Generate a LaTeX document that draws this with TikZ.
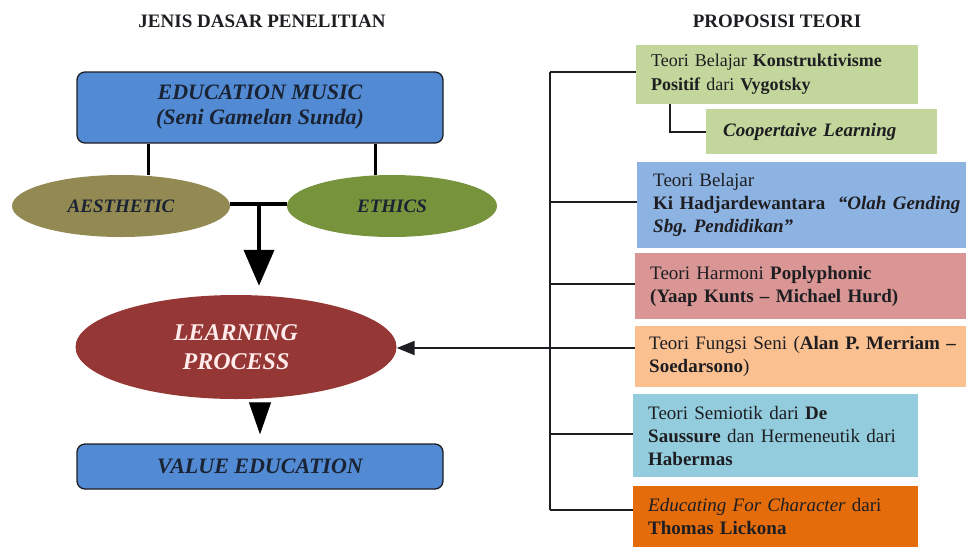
\documentclass[tikz,border=0pt]{standalone}
\usepackage{fontspec}
\setmainfont{LiberationSerif}[
  Extension=.ttf,
  UprightFont=*-Regular,
  BoldFont=*-Bold,
  ItalicFont=*-Italic,
  BoldItalicFont=*-BoldItalic]
\usetikzlibrary{shapes.geometric,arrows.meta}

\definecolor{boxblue}{HTML}{528AD3}
\definecolor{aesfill}{HTML}{938953}
\definecolor{ethfill}{HTML}{77933C}
\definecolor{lpfill}{HTML}{953735}
\definecolor{tgreen}{HTML}{C3D69B}
\definecolor{tblue}{HTML}{8DB3E2}
\definecolor{tpink}{HTML}{D99694}
\definecolor{tpeach}{HTML}{FAC090}
\definecolor{tcyan}{HTML}{93CDDD}
\definecolor{torange}{HTML}{E46C0A}
\definecolor{ink}{HTML}{1E1E22}
\definecolor{navyink}{HTML}{1A2333}

\frenchspacing

\tikzset{
  heading/.style={font=\fontsize{19}{21}\selectfont\bfseries, text=ink},
  mainbox/.style={draw=ink, line width=1.3pt, rounded corners=8pt, fill=boxblue,
    minimum width=366pt, text=navyink, align=center,
    font=\fontsize{22}{25}\selectfont\bfseries\itshape, inner sep=0pt},
  oval/.style={ellipse, inner sep=0pt, text=navyink,
    font=\fontsize{19}{22}\selectfont\bfseries\itshape},
  theory/.style={anchor=west, inner xsep=15pt, inner ysep=0pt,
    align=left, text=ink, font=\fontsize{19}{23}\selectfont},
  link/.style={line width=2pt, draw=ink},
  thickline/.style={line width=4pt, draw=black}
}

\begin{document}
\begin{tikzpicture}[x=1pt,y=-1pt]
  \useasboundingbox (0,0) rectangle (966,547);

  % headings
  \node[heading] (h1) at (262,21) {JENIS DASAR PENELITIAN};
  \node[heading] (h2) at (777,21) {PROPOSISI TEORI};

  % left column
  \node[mainbox, minimum height=71pt] (em) at (260,107.5)
    {EDUCATION MUSIC\\(Seni Gamelan Sunda)};
  \node[oval, fill=aesfill, minimum width=218pt, minimum height=62pt] (aes) at (121,206) {AESTHETIC};
  \node[oval, fill=ethfill, minimum width=210pt, minimum height=62pt] (eth) at (392,206) {ETHICS};
  \node[oval, fill=lpfill, minimum width=321pt, minimum height=104pt, text=white!92!red,
        font=\fontsize{24}{29}\selectfont\bfseries\itshape, align=center] (lp) at (236,347)
    {LEARNING\\PROCESS};
  \node[mainbox, minimum height=45pt] (ve) at (260,466.5) {VALUE EDUCATION};

  % links from the top box to the two ovals
  \draw[thickline, line width=3pt] (em.south -| aes.north) ++(27,0) coordinate (la) -- (la |- aes.north);
  \draw[thickline, line width=3pt] (em.south -| eth.north) ++(-17,0) coordinate (lb) -- (lb |- eth.north);

  % joining bar and main arrow
  \coordinate (bar) at (259,204);
  \draw[thickline] (aes.east |- bar) -- (eth.west |- bar);
  \draw[thickline, -{Triangle[width=30pt,length=36pt]}, shorten >=9pt] (bar) -- (bar |- lp.north);
  \coordinate (mid) at (260,0);
  \draw[line width=1pt, -{Triangle[width=22pt,length=32pt]}, shorten <=5pt, shorten >=9pt]
    (lp.south -| mid) -- (ve.north -| mid);

  % theory boxes on the right
  \node[theory, fill=tgreen, minimum height=59pt, text width=252pt,
        font=\fontsize{18}{24}\selectfont] (b1) at (636,74.5)
    {Teori Belajar \textbf{Konstruktivisme}\\\textbf{Positif} dari \textbf{Vygotsky}};
  \node[theory, fill=tgreen, minimum height=45pt, text width=197pt, inner xsep=17pt] (b2) at (706,131.5)
    {\textbf{\textit{Coopertaive Learning}}};
  \node[theory, fill=tblue, minimum height=86pt, text width=320pt, inner xsep=16pt] (b3) at (637,205)
    {Teori Belajar\\\textbf{Ki Hadjardewantara}\ \ \textbf{\textit{“Olah Gending}}\\\textbf{\textit{Sbg. Pendidikan”}}};
  \node[theory, fill=tpink, minimum height=66pt, text width=320pt] (b4) at (635,286)
    {Teori Harmoni \textbf{Poplyphonic}\\\textbf{(Yaap Kunts – Michael Hurd)}};
  \node[theory, fill=tpeach, minimum height=61pt, text width=320pt, inner xsep=14pt] (b5) at (635,356.5)
    {Teori Fungsi Seni (\textbf{Alan P. Merriam –}\\\textbf{Soedarsono})};
  \node[theory, fill=tcyan, minimum height=83pt, text width=255pt] (b6) at (633,435.5)
    {Teori Semiotik dari \textbf{De}\\\textbf{Saussure} dan Hermeneutik dari\\\textbf{Habermas}};
  \node[theory, fill=torange, minimum height=61pt, text width=255pt] (b7) at (633,516.5)
    {\textit{Educating For Character} dari\\\textbf{Thomas Lickona}};

  % vertical bus with its branches
  \coordinate (j1) at (550,72);
  \coordinate (j3) at (550,202);
  \coordinate (j4) at (550,284);
  \coordinate (j5) at (550,348);
  \coordinate (j6) at (550,434);
  \coordinate (j7) at (550,510);
  \draw[link] (j1) -- (j7);
  \draw[link] (j1) -- (j1 -| b1.west);
  \draw[link] (j3) -- (j3 -| b3.west);
  \draw[link] (j4) -- (j4 -| b4.west);
  \draw[link] (j5) -- (j5 -| b5.west);
  \draw[link] (j6) -- (j6 -| b6.west);
  \draw[link] (j7) -- (j7 -| b7.west);
  \draw[link] ([xshift=34pt]b1.south west) |- (b2.west);

  % arrow into the learning process
  \draw[link, -{Triangle[width=14pt,length=18pt]}] (j5) -- (lp.east |- j5);
\end{tikzpicture}
\end{document}
